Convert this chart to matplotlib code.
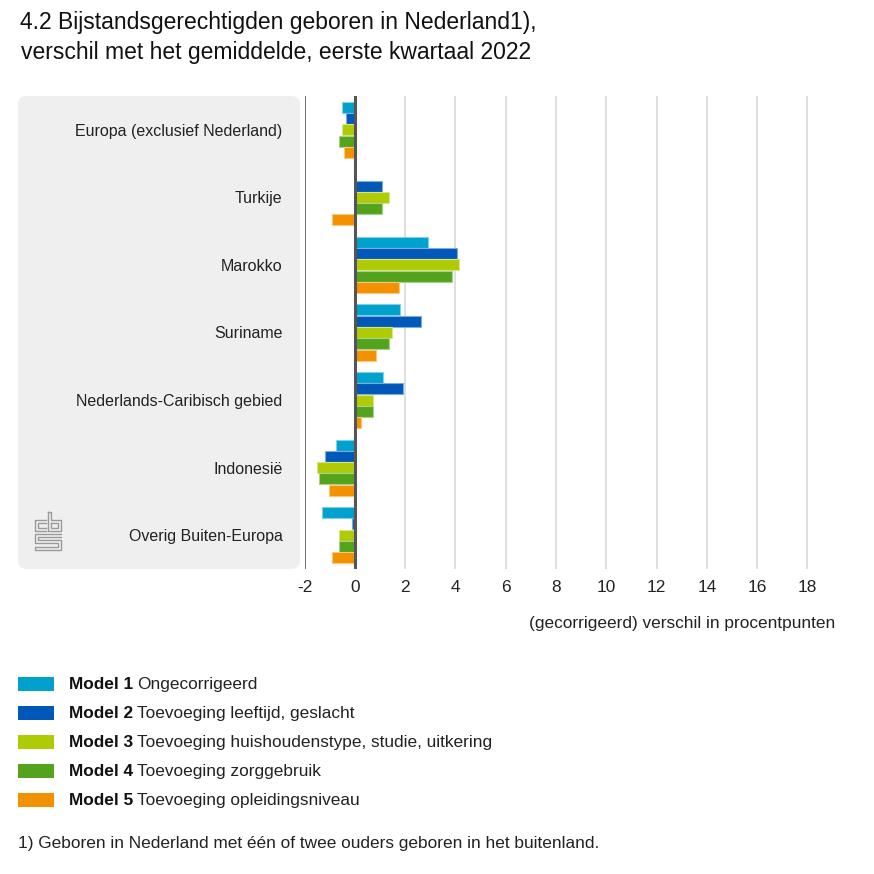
import numpy as np
import matplotlib
matplotlib.use("Agg")
import matplotlib.pyplot as plt
from matplotlib.patches import FancyBboxPatch, Rectangle
from matplotlib.lines import Line2D

plt.rcParams['font.family'] = ['Liberation Sans', 'DejaVu Sans']

categories = ["Europa (exclusief Nederland)", "Turkije", "Marokko", "Suriname",
              "Nederlands-Caribisch gebied", "Indonesië", "Overig Buiten-Europa"]
model1 = [-0.53, 0.0, 2.91, 1.81, 1.12, -0.75, -1.33]
model2 = [-0.36, 1.07, 4.07, 2.63, 1.93, -1.21, -0.12]
model3 = [-0.53, 1.36, 4.14, 1.47, 0.71, -1.50, -0.63]
model4 = [-0.63, 1.07, 3.85, 1.36, 0.72, -1.44, -0.63]
model5 = [-0.42, -0.92, 1.76, 0.83, 0.25, -1.04, -0.92]
series = [model1, model2, model3, model4, model5]
model_names = ["Model 1", "Model 2", "Model 3", "Model 4", "Model 5"]
model_desc = ["Ongecorrigeerd", "Toevoeging leeftijd, geslacht",
              "Toevoeging huishoudenstype, studie, uitkering",
              "Toevoeging zorggebruik", "Toevoeging opleidingsniveau"]
colors = ["#00a1cd", "#0058b8", "#afcb05", "#53a31d", "#f39200"]
edges = ["#7fd0e6", "#7fabdb", "#d7e582", "#a9d18e", "#f9c87f"]
xticks = [-2, 0, 2, 4, 6, 8, 10, 12, 14, 16, 18]

W = H = 874
FS = 12.4
fig = plt.figure(figsize=(8.74, 8.74), dpi=100)


def fx(px):
    return px / W


def fy(py):
    return 1 - py / H


# grey panel behind the category labels
panel = FancyBboxPatch((fx(18), fy(569)), fx(300) - fx(18), fy(96) - fy(569),
                       boxstyle="round,pad=0,rounding_size=0.01",
                       transform=fig.transFigure, facecolor="#efefef",
                       edgecolor="none", zorder=-5)
fig.patches.append(panel)

ax = fig.add_axes([fx(304.7), fy(569), fx(835) - fx(304.7), fy(96) - fy(569)])
ax.set_facecolor("none")

bh = 0.167
y = np.arange(len(categories))
for i, vals in enumerate(series):
    off = (i - 2) * bh
    ax.barh(y + off, vals, height=bh * 0.97, color=colors[i],
            edgecolor=edges[i], linewidth=0.8, zorder=3)

ax.set_xlim(-2, 19.1)
ax.set_ylim(6.5, -0.5)
ax.set_xticks(xticks)
ax.set_xticklabels([str(t) for t in xticks], fontsize=FS, color="#222222")
ax.set_yticks(y)
ax.set_yticklabels(categories, fontsize=11.5, color="#222222")
ax.tick_params(axis="y", length=0, pad=16)
ax.tick_params(axis="x", length=0, pad=8)
for s in ax.spines.values():
    s.set_visible(False)
for t in xticks[2:]:
    ax.axvline(t, color="#d9d9d9", linewidth=1.2, zorder=1)
ax.axvline(-2, color="#666666", linewidth=1.3, zorder=2)
ax.axvline(0, color="#555555", linewidth=2.2, zorder=4)

ax.set_xlabel("(gecorrigeerd) verschil in procentpunten", fontsize=FS,
              color="#222222", loc="right", labelpad=15)

# title
fig.text(fx(278), fy(23), "4.2 Bijstandsgerechtigden geboren in Nederland1),",
         ha="center", va="center", fontsize=16.5, color="#111111")
fig.text(fx(276), fy(53), "verschil met het gemiddelde, eerste kwartaal 2022",
         ha="center", va="center", fontsize=16.5, color="#111111")

# legend
fig.canvas.draw()
renderer = fig.canvas.get_renderer()
for i in range(5):
    yc = 684 + i * 29
    fig.patches.append(Rectangle((fx(18), fy(yc + 7)), fx(36), fy(0) - fy(14),
                                 transform=fig.transFigure, facecolor=colors[i],
                                 edgecolor="none"))
    tb = fig.text(fx(69), fy(yc + 5), model_names[i], fontsize=FS, fontweight="bold",
                  ha="left", va="baseline", color="#111111")
    bb = tb.get_window_extent(renderer)
    fig.text(bb.x1 / W + fx(4), fy(yc + 5), model_desc[i], fontsize=FS,
             ha="left", va="baseline", color="#222222")

fig.text(fx(18), fy(848), "1) Geboren in Nederland met één of twee ouders geboren in het buitenland.",
         fontsize=FS, ha="left", va="baseline", color="#222222")

# cbs logo (approximate outline)
logo = "#9a9a9a"
paths = [
    [(46, 520), (35, 520), (35, 531), (46, 531)],
    [(46, 523), (38, 523), (38, 528), (46, 528)],
    [(48, 512), (48, 531), (61, 531), (61, 520), (51, 520), (51, 512), (48, 512)],
    [(51, 523), (58, 523), (58, 528), (51, 528), (51, 523)],
    [(61, 534), (35, 534), (35, 543), (58, 543), (58, 547), (35, 547), (35, 550), (61, 550), (61, 540), (38, 540), (38, 537), (61, 537)],
]
for p in paths:
    xs = [fx(a) for a, b in p]
    ys = [fy(b) for a, b in p]
    fig.lines.append(Line2D(xs, ys, transform=fig.transFigure, color=logo, linewidth=1.0))

fig.savefig("out.png", dpi=100)
